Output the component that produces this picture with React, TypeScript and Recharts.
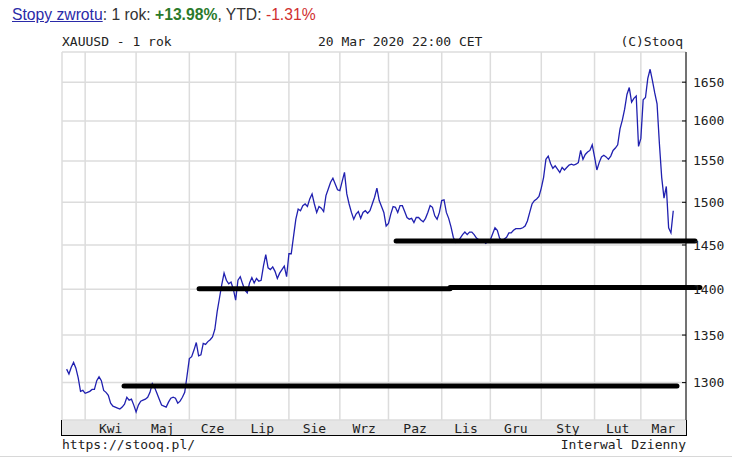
import { LineChart, Line, XAxis, YAxis, CartesianGrid, ReferenceLine } from "recharts";

// XAUUSD daily close, one value per weekday (20 Mar 2019 .. 20 Mar 2020)
const closes = [
  1314, 1309, 1316, 1321, 1315, 1305, 1291, 1292, 1289, 1290,
  1291, 1293, 1293, 1302, 1306, 1302, 1292, 1290, 1287, 1279,
  1276, 1275, 1274, 1273, 1275, 1278, 1285, 1282, 1283, 1277,
  1270, 1277, 1281, 1282, 1283, 1285, 1290, 1299, 1295, 1289,
  1283, 1277, 1276, 1275, 1280, 1284, 1285, 1284, 1279, 1281,
  1285, 1290, 1307, 1325, 1327, 1334, 1342, 1328, 1329, 1341,
  1340, 1343, 1345, 1348, 1356, 1375, 1390, 1405, 1418, 1410,
  1406, 1408, 1400, 1388, 1410, 1414, 1406, 1399, 1396, 1407,
  1413, 1407, 1412, 1409, 1410, 1426, 1439, 1424, 1422, 1425,
  1420, 1412, 1418, 1422, 1426, 1414, 1440, 1440, 1460, 1480,
  1492, 1490, 1496, 1498, 1495, 1504, 1510, 1498, 1488, 1495,
  1493, 1489, 1508, 1516, 1524, 1529, 1522, 1515, 1514, 1525,
  1536, 1510, 1498, 1488, 1480, 1486, 1489, 1481, 1488, 1490,
  1487, 1490, 1498, 1506, 1517, 1502, 1495, 1488, 1472, 1475,
  1486, 1495, 1494, 1488, 1496, 1496, 1489, 1482, 1480, 1481,
  1476, 1482, 1482, 1479, 1477, 1481, 1488, 1496, 1494, 1484,
  1480, 1488, 1502, 1503, 1488, 1481, 1471, 1459, 1453, 1454,
  1458, 1462, 1465, 1462, 1465, 1465, 1462, 1458, 1456, 1453,
  1455, 1452, 1454, 1456, 1463, 1470, 1467, 1458, 1455, 1457,
  1459, 1464, 1464, 1467, 1469, 1469, 1469, 1470, 1472, 1478,
  1488, 1498, 1502, 1504, 1507, 1517, 1530, 1552, 1556, 1547,
  1541, 1544, 1540, 1536, 1542, 1539, 1542, 1545, 1546, 1545,
  1546, 1548, 1563, 1552, 1558, 1561, 1563, 1570, 1555, 1539,
  1548, 1555, 1557, 1555, 1552, 1556, 1563, 1566, 1570, 1590,
  1601, 1615, 1634, 1643, 1624, 1629, 1632, 1568, 1578, 1627,
  1630, 1655, 1667, 1652, 1636, 1622, 1572, 1530, 1505, 1519,
  1470, 1464, 1490,
];

// first trading day of each month (index into closes)
const monthStarts = [8, 30, 53, 73, 96, 118, 139, 162, 183, 205, 228, 248];
const monthLabels = ["Kwi", "Maj", "Cze", "Lip", "Sie", "Wrz", "Paz", "Lis", "Gru", "Sty", "Lut", "Mar"];
const monthLabelPos = [19, 41.5, 63, 84.5, 107, 128.5, 150.5, 172.5, 194, 216.5, 238, 257.7];
const priceTicks = [1300, 1350, 1400, 1450, 1500, 1550, 1600, 1650];

// hand-drawn support lines (day index from/to, price level)
const supportFrom = [24.8, 57.2, 165.6, 142.3];
const supportTo = [263.6, 165.6, 273.5, 271.4];
const supportLevel = [1296.5, 1400.5, 1402, 1454.5];

const data = closes.map((close, i) => ({ i, close }));

const X_DOMAIN: [number, number] = [-2, 267.5];
const Y_DOMAIN: [number, number] = [1262, 1690];
const MONO = '"DejaVu Sans Mono", monospace';

const PriceTick = ({ x, y, payload }: any) => (
  <g>
    <line x1={x - 4} x2={x} y1={y} y2={y} stroke="#000" />
    <text x={x + 7} y={y + 4.5} fontFamily={MONO} fontSize={13} fill="#222">
      {payload.value}
    </text>
  </g>
);

const MonthTick = ({ x, y, index }: any) => (
  <text x={x} y={y + 12.5} textAnchor="middle" fontFamily={MONO} fontSize={13} fill="#222">
    {monthLabels[index] ?? ""}
  </text>
);

const EmptyTick = () => <g />;

const mono = { position: "absolute" as const, fontFamily: MONO, fontSize: 13, lineHeight: "15px", color: "#222", whiteSpace: "pre" as const };

export default function App() {
  return (
    <div style={{ position: "absolute", left: 0, top: 0, width: 732, height: 458, background: "#fff", overflow: "hidden" }}>
      <div style={{ position: "absolute", left: 12, top: 6, fontFamily: '"Liberation Sans", Arial, sans-serif', fontSize: 15.7, lineHeight: "17px", color: "#333", whiteSpace: "pre" }}>
        <span style={{ color: "#2a2aa8", textDecoration: "underline" }}>Stopy zwrotu</span>
        <span>: 1 rok: </span>
        <span style={{ color: "#2b7a2b", fontWeight: "bold" }}>+13.98%</span>
        <span>, YTD: </span>
        <span style={{ color: "#d03030" }}>-1.31%</span>
      </div>

      <div style={{ ...mono, left: 62, top: 34 }}>XAUUSD - 1 rok</div>
      <div style={{ ...mono, left: 318, top: 34 }}>20 Mar 2020 22:00 CET</div>
      <div style={{ ...mono, right: 49, top: 34 }}>(C)Stooq</div>

      {/* x-axis strip */}
      <div style={{ position: "absolute", left: 61, top: 420, width: 624, height: 15, background: "#e6e6e6", borderLeft: "1px solid #000", borderRight: "1px solid #000", borderBottom: "1px solid #000" }} />

      <div style={{ ...mono, left: 62, top: 437 }}>https://stooq.pl/</div>
      <div style={{ ...mono, right: 46, top: 437 }}>Interwal Dzienny</div>
      <div style={{ position: "absolute", left: 0, top: 456, width: 732, height: 1, background: "#d8d8d8" }} />

      <div style={{ position: "absolute", left: 0, top: 0 }}>
        <LineChart width={732} height={458} data={data} margin={{ top: 52, right: 0, bottom: 22, left: 62 }}>
          <XAxis xAxisId="top" orientation="top" dataKey="i" type="number" domain={X_DOMAIN} allowDataOverflow
            ticks={monthStarts} tick={<EmptyTick />} tickSize={4} mirror height={0} interval={0}
            axisLine={{ stroke: "#000" }} tickLine={{ stroke: "#000" }} />
          <XAxis xAxisId="bottom" orientation="bottom" dataKey="i" type="number" domain={X_DOMAIN} allowDataOverflow
            ticks={monthStarts} tick={<EmptyTick />} tickSize={4} mirror height={0} interval={0}
            axisLine={{ stroke: "#000" }} tickLine={{ stroke: "#000" }} />
          <XAxis xAxisId="labels" orientation="bottom" dataKey="i" type="number" domain={X_DOMAIN} allowDataOverflow
            ticks={monthLabelPos} tick={<MonthTick />} tickLine={false} axisLine={false}
            tickSize={0} tickMargin={0} height={16} interval={0} />
          <YAxis yAxisId="left" orientation="left" type="number" scale="log" domain={Y_DOMAIN} allowDataOverflow
            ticks={priceTicks} tick={<EmptyTick />} tickSize={4} mirror width={0} interval={0}
            axisLine={{ stroke: "#000" }} tickLine={{ stroke: "#000" }} />
          <YAxis yAxisId="price" orientation="right" type="number" scale="log" domain={Y_DOMAIN} allowDataOverflow
            ticks={priceTicks} tick={<PriceTick />} tickLine={false} tickSize={0} tickMargin={0}
            width={46} interval={0} axisLine={{ stroke: "#000" }} />
          <CartesianGrid xAxisId="top" yAxisId="price" stroke="#dcdcdc" strokeWidth={1.5} />
          <Line xAxisId="top" yAxisId="price" dataKey="close" stroke="#2020b0" strokeWidth={1.3}
            dot={false} activeDot={false} isAnimationActive={false} />
          {supportLevel.map((level, k) => (
            <ReferenceLine key={k} xAxisId="top" yAxisId="price" ifOverflow="visible"
              segment={[{ x: supportFrom[k], y: level }, { x: supportTo[k], y: level }]}
              stroke="#000" strokeWidth={5} strokeLinecap="round" />
          ))}
        </LineChart>
      </div>
    </div>
  );
}
